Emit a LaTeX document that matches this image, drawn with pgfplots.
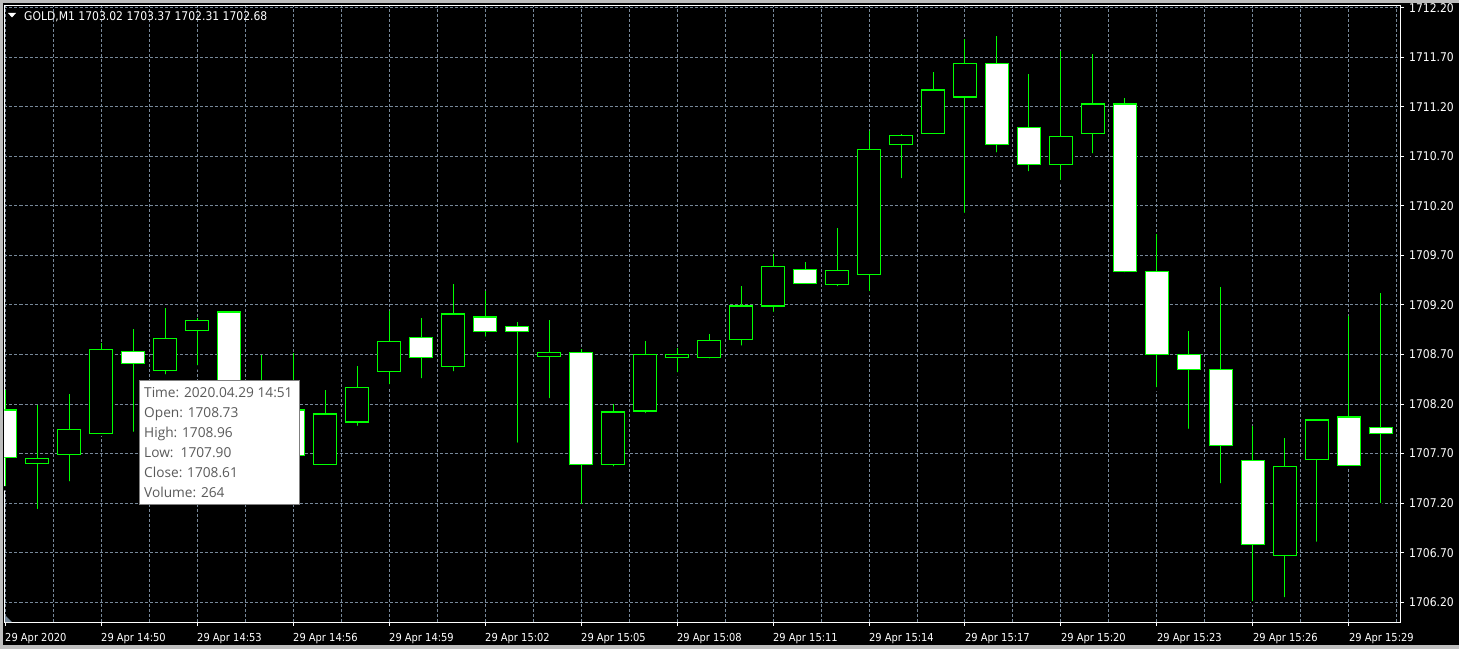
\documentclass[border=0pt]{standalone}
\usepackage{pgfplots}
\pgfplotsset{compat=1.18}
\usepackage{pgfplotstable}
\usepackage{fontspec}
\setmainfont{DejaVu Sans}
\newfontfamily\chartfont[FakeStretch=0.9]{DejaVu Sans}
\newfontfamily\tipfont{Open Sans}
\definecolor{candle}{RGB}{0,255,0}
\definecolor{gridc}{RGB}{119,136,153}
\definecolor{framec}{RGB}{190,190,190}
\definecolor{tiptext}{RGB}{90,90,90}
\definecolor{tipframe}{RGB}{128,128,128}

% one row per minute, m = 0 is 14:47
\pgfplotstableread{
m  O       H       L       C
0  1708.14 1708.34 1707.35 1707.66
1  1707.60 1708.19 1707.12 1707.65
2  1707.69 1708.30 1707.40 1707.94
3  1707.90 1708.82 1707.90 1708.75
4  1708.73 1708.96 1707.90 1708.61
5  1708.54 1709.17 1708.48 1708.86
6  1708.94 1709.07 1708.57 1709.04
7  1709.13 1709.13 1708.25 1708.30
8  1708.30 1708.70 1707.95 1708.14
9  1708.14 1708.72 1707.62 1707.68
10 1707.59 1708.34 1707.58 1708.10
11 1708.02 1708.58 1707.96 1708.37
12 1708.53 1709.14 1708.38 1708.83
13 1708.87 1709.07 1708.44 1708.67
14 1708.58 1709.41 1708.51 1709.11
15 1709.08 1709.34 1708.86 1708.93
16 1708.98 1709.03 1707.79 1708.93
17 1708.68 1709.05 1708.24 1708.72
18 1708.72 1708.76 1707.17 1707.59
19 1707.59 1708.20 1707.55 1708.12
20 1708.13 1708.84 1708.09 1708.70
21 1708.67 1708.77 1708.50 1708.70
22 1708.67 1708.91 1708.64 1708.84
23 1708.85 1709.39 1708.77 1709.19
24 1709.19 1709.71 1709.11 1709.59
25 1709.56 1709.63 1709.40 1709.42
26 1709.41 1709.98 1709.37 1709.55
27 1709.51 1710.96 1709.32 1710.77
28 1710.82 1710.93 1710.46 1710.91
29 1710.93 1711.55 1710.93 1711.37
30 1711.30 1711.88 1710.11 1711.64
31 1711.64 1711.92 1710.72 1710.82
32 1710.99 1711.53 1710.53 1710.62
33 1710.62 1711.76 1710.44 1710.90
34 1710.93 1711.73 1710.71 1711.23
35 1711.23 1711.29 1709.51 1709.54
36 1709.54 1709.92 1708.35 1708.70
37 1708.70 1708.94 1707.93 1708.55
38 1708.55 1709.38 1707.38 1707.78
39 1707.63 1707.98 1706.19 1706.78
40 1706.67 1707.86 1706.23 1707.57
41 1707.64 1708.04 1706.79 1708.04
42 1708.07 1709.09 1707.58 1707.58
43 1707.96 1709.32 1707.18 1707.90
}\candles

\pgfplotsset{chartaxis/.style={
  at={(4.5pt,27pt)}, anchor=south west, scale only axis,
  width=1395.5pt, height=616pt,
  xmin=-0.016, xmax=43.594, ymin=1706.0, ymax=1712.218,
  clip=true}}

\begin{document}
\begin{tikzpicture}[x=1pt,y=1pt]
\fill[black] (0,0) rectangle (1459,649);

\begin{axis}[chartaxis,
  axis line style={white, line width=1pt},
  xtick={0,3,...,42},
  minor xtick={1.5,4.5,...,43.5},
  xticklabels={29 Apr 2020,29 Apr 14:50,29 Apr 14:53,29 Apr 14:56,29 Apr 14:59,
    29 Apr 15:02,29 Apr 15:05,29 Apr 15:08,29 Apr 15:11,29 Apr 15:14,29 Apr 15:17,
    29 Apr 15:20,29 Apr 15:23,29 Apr 15:26,29 Apr 15:29},
  ytick={1706.2,1706.7,1707.2,1707.7,1708.2,1708.7,1709.2,1709.7,1710.2,1710.7,1711.2,1711.7,1712.2},
  yticklabels={1706.20,1706.70,1707.20,1707.70,1708.20,1708.70,1709.20,1709.70,1710.20,1710.70,1711.20,1711.70,1712.20},
  grid=both,
  major grid style={gridc, dash pattern=on 3pt off 2pt, line width=1pt},
  minor grid style={gridc, dash pattern=on 3pt off 2pt, line width=1pt},
  tick align=outside, major tick length=4pt, minor tick length=0pt,
  xtick pos=left, ytick pos=right, yticklabel pos=right,
  tick style={white, line width=1pt},
  xticklabel style={anchor=north west, inner sep=0pt, yshift=-7pt, text=white,
    font=\chartfont\fontsize{11}{13}\selectfont},
  yticklabel style={anchor=west, inner sep=0pt, xshift=5pt, text=white,
    font=\chartfont\fontsize{12}{14}\selectfont},
]
\addplot[only marks, mark=none,
  error bars/.cd, y dir=plus, y explicit, error mark=none,
  error bar style={draw=candle, line width=1pt, solid}]
  table[x=m, y=L, y error expr=\thisrow{H}-\thisrow{L}] {\candles};
\end{axis}

\begin{axis}[chartaxis, hide axis, ybar stacked, bar width=22.5pt]
\addplot[draw=none, fill=none]
  table[x=m, y expr={min(\thisrow{O},\thisrow{C})}] {\candles};
\addplot[fill=white, draw=candle, line width=1.3pt]
  table[x=m, y expr={max(\thisrow{O}-\thisrow{C},0)}] {\candles};
\addplot[fill=black, draw=candle, line width=1.3pt]
  table[x=m, y expr={max(\thisrow{C}-\thisrow{O},0)}] {\candles};
\end{axis}

% window frame and chart marks
\fill[framec] (0,646) rectangle (1459,649);
\fill[framec] (0,0) rectangle (2.5,649);
\fill[framec] (0,0) rectangle (1459,4);
\fill[gridc] (5,34) -- (5,27) -- (12,27) -- cycle;

% title
\fill[white] (8,636) -- (16,636) -- (12,631.5) -- cycle;
\node[anchor=base west, inner sep=0pt, text=white,
  font=\chartfont\fontsize{12}{14}\selectfont] at (24,628.3)
  {GOLD,M1 1703.02 1703.37 1702.31 1702.68};

% data window tooltip
\filldraw[fill=white, draw=tipframe, line width=1pt] (139,269) rectangle (299.3,145);
\begin{scope}[every node/.style={anchor=base west, inner sep=0pt, text=tiptext,
  font=\tipfont\fontsize{13.7}{16}\selectfont}]
\node at (144,251.5) {Time: 2020.04.29 14:51};
\node at (144,231.5) {Open: 1708.73};
\node at (144,211.5) {High: 1708.96};
\node at (144,191.5) {Low:~\ 1707.90};
\node at (144,171.5) {Close: 1708.61};
\node at (144,151.5) {Volume: 264};
\end{scope}
\end{tikzpicture}
\end{document}
